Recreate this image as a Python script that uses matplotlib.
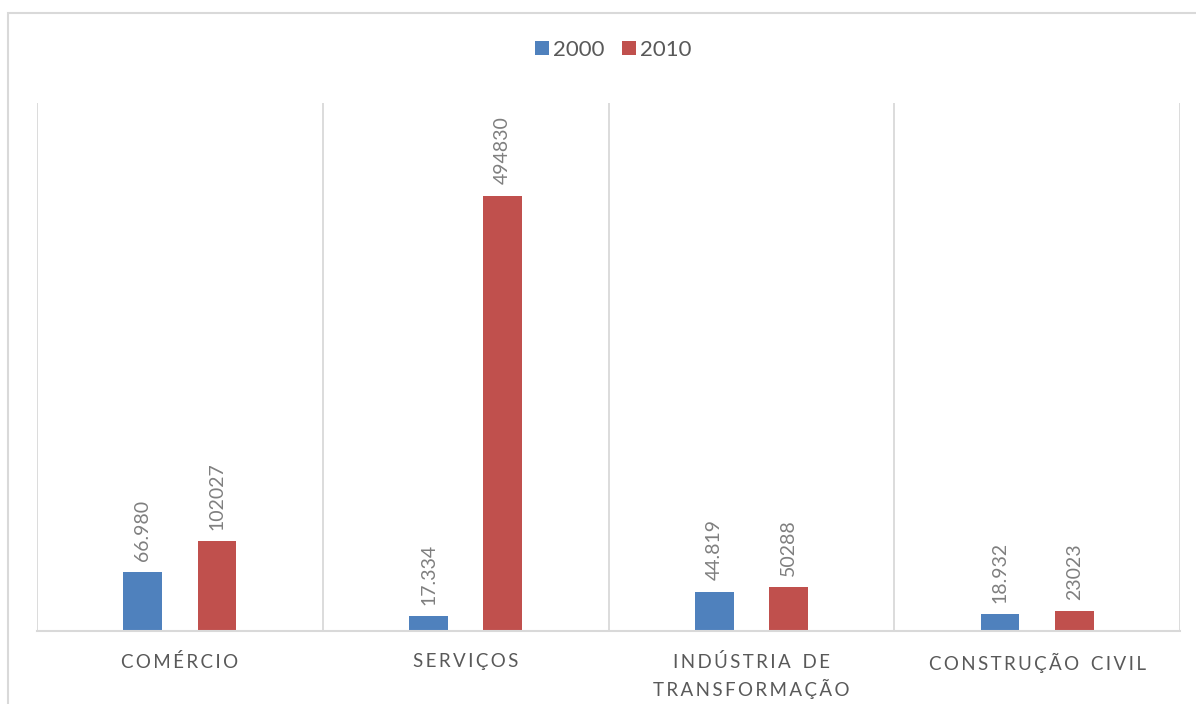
import numpy as np
import matplotlib.pyplot as plt
from matplotlib.patches import Rectangle

categorias = ['COMÉRCIO', 'SERVIÇOS', 'INDÚSTRIA DE\nTRANSFORMAÇÃO', 'CONSTRUÇÃO CIVIL']
anos = ['2000', '2010']
v2000 = [66980, 17334, 44819, 18932]
v2010 = [102027, 494830, 50288, 23023]
rotulos2000 = ['66.980', '17.334', '44.819', '18.932']
rotulos2010 = ['102027', '494830', '50288', '23023']

azul = '#4f81bd'
vermelho = '#c0504d'
cinza = '#595959'
grade = '#d9d9d9'

plt.rcParams['font.family'] = ['Lato', 'DejaVu Sans']


def espacar(txt):
    # letter spacing for category labels
    linhas = []
    for linha in txt.split('\n'):
        linhas.append('\u2009'.join(linha).replace('\u2009 \u2009', '\u2002\u2009'))
    return '\n'.join(linhas)


fig = plt.figure(figsize=(11.96, 7.04), dpi=100)
W, H = 1196, 704

# chart area border
fig.patches.append(Rectangle((8 / W, -0.1), 1.2, (H - 13) / H + 0.1,
                             transform=fig.transFigure, fill=False,
                             edgecolor=grade, linewidth=1.5))

ax = fig.add_axes([37 / W, (H - 631) / H, (1180 - 37) / W, (631 - 103) / H])

x = np.arange(len(categorias))
larg = 0.135
desl = 0.13
b1 = ax.bar(x - desl, v2000, larg, color=azul, label=anos[0])
b2 = ax.bar(x + desl, v2010, larg, color=vermelho, label=anos[1])

for barras, rot in ((b1, rotulos2000), (b2, rotulos2010)):
    for b, t in zip(barras, rot):
        ax.annotate(t, (b.get_x() + b.get_width() / 2, b.get_height()),
                    xytext=(0, 8), textcoords='offset points',
                    rotation=90, ha='center', va='bottom',
                    fontsize=14, color='#7f7f7f')

ax.set_xlim(-0.5, len(categorias) - 0.5)
ax.set_ylim(0, 600000)
ax.set_yticks([])
ax.set_xticks(x)
ax.set_xticklabels([espacar(c) for c in categorias], fontsize=13.5,
                   color=cinza, linespacing=1.45)
ax.tick_params(axis='x', length=0, pad=16)

for xv in np.arange(-0.5, len(categorias), 1.0):
    ax.axvline(xv, color=grade, linewidth=1.3, zorder=0)

for s in ('top', 'right', 'left'):
    ax.spines[s].set_visible(False)
ax.spines['bottom'].set_color(grade)
ax.spines['bottom'].set_linewidth(1.5)

fig.legend(loc='center', bbox_to_anchor=(0.513, (H - 50) / H), ncol=2,
           frameon=False, fontsize=16, handlelength=0.6, handleheight=0.6,
           handletextpad=0.2, columnspacing=0.8, labelcolor=cinza)

fig.savefig('out.png', dpi=100)
